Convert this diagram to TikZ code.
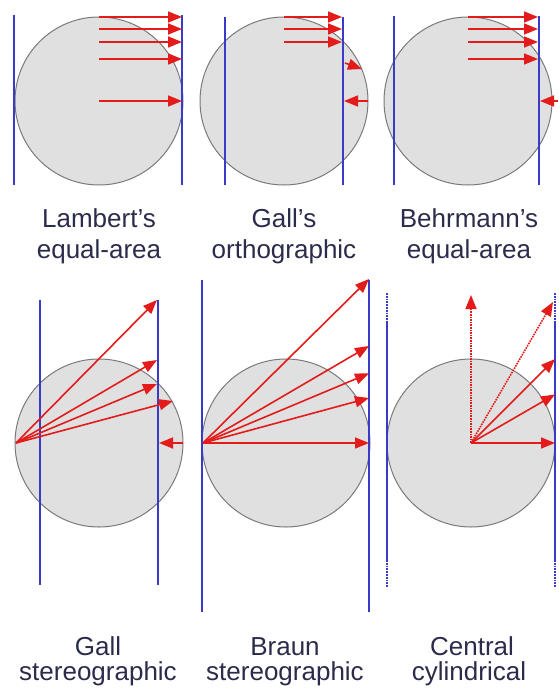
\documentclass[tikz,border=0pt]{standalone}
\usepackage{fontspec}
\setsansfont{Liberation Sans}
\usetikzlibrary{arrows.meta}
\definecolor{pgrey}{HTML}{E0E0E0}
\definecolor{pedge}{HTML}{7A7A7A}
\definecolor{pblue}{HTML}{3A3AC8}
\definecolor{pred}{HTML}{E41B1B}
\definecolor{ptext}{HTML}{2B2B4B}

\begin{document}
\begin{tikzpicture}[x=1pt,y=1pt,
  globe/.style={fill=pgrey,draw=pedge,line width=1pt},
  cyl/.style={pblue,line width=1.8pt},
  cyldot/.style={pblue,line width=1.8pt,densely dotted},
  ray/.style={pred,line width=1.6pt,-{Triangle[length=14pt,width=11pt]}},
  raydot/.style={ray,densely dotted},
  caption/.style={text=ptext,font=\sffamily\fontsize{26}{31}\selectfont,anchor=base,inner sep=0pt}]
  \useasboundingbox (0,0) rectangle (558,-695);
  % Lambert's equal-area: tangent cylinder
  \begin{scope}[shift={(99,-101)}]
    \draw[globe] (0,0) circle (84);
    \draw[cyl] (-85,86) -- (-85,-84);
    \draw[cyl] (83,86) -- (83,-84);
    \foreach \h in {84,72,59,42,0}
      \draw[ray] (0,\h) -- (83,\h);
  \end{scope}
  % Gall's orthographic: secant at 45
  \begin{scope}[shift={(284,-101)}]
    \draw[globe] (0,0) circle (84);
    \draw[cyl] (-59,84) -- (-59,-84);
    \draw[cyl] (59,84) -- (59,-84);
    \foreach \h in {84,72,59}
      \draw[ray] (0,\h) -- (58,\h);
    \draw[ray] (61,38) -- (78,32);
    \draw[ray] (84,0) -- (60,0);
  \end{scope}
  % Behrmann's equal-area: secant at 30
  \begin{scope}[shift={(468,-101)}]
    \draw[globe] (0,0) circle (84);
    \draw[cyl] (-74,85) -- (-74,-84);
    \draw[cyl] (71,85) -- (71,-84);
    \foreach \h in {84,72,59,42}
      \draw[ray] (0,\h) -- (70,\h);
    \draw[ray] (90,0) -- (72,0);
  \end{scope}
  % Gall stereographic
  \begin{scope}[shift={(99,-443)}]
    \draw[globe] (0,0) circle (84);
    \draw[cyl] (-59,143) -- (-59,-142);
    \draw[cyl] (59,143) -- (59,-142);
    \coordinate (gsPole) at (-83,0);
    \foreach \x/\y in {58/143,58/83,58/59,74/42}
      \draw[ray] (gsPole) -- (\x,\y);
    \draw[ray] (84,0) -- (60,0);
  \end{scope}
  % Braun stereographic
  \begin{scope}[shift={(286,-443)}]
    \draw[globe] (0,0) circle (84);
    \draw[cyl] (-84,163) -- (-84,-169);
    \draw[cyl] (83,163) -- (83,-169);
    \coordinate (brPole) at (-83,0);
    \foreach \x/\y in {83/164,83/97,83/69.6,83/45,83/0}
      \draw[ray] (brPole) -- (\x,\y);
  \end{scope}
  % Central cylindrical
  \begin{scope}[shift={(471,-443)}]
    \draw[globe] (0,0) circle (84);
    \foreach \s in {-84,84} {
      \draw[cyl] (\s,121) -- (\s,-117);
      \draw[cyldot] (\s,150) -- (\s,121);
      \draw[cyldot] (\s,-117) -- (\s,-144);
    }
    \coordinate (ccMid) at (0,0);
    \draw[raydot] (ccMid) -- (0,148);
    \draw[raydot] (ccMid) -- (82,141);
    \foreach \y in {84,48.5,0}
      \draw[ray] (ccMid) -- (84,\y);
  \end{scope}
  % captions
  \node[caption] (lamA) at (99,-227) {Lambert's};
  \node[caption] (lamB) at (99,-258) {equal-area};
  \node[caption] (galA) at (284,-227) {Gall's};
  \node[caption] (galB) at (284,-258) {orthographic};
  \node[caption] (behA) at (469,-227) {Behrmann's};
  \node[caption] (behB) at (469,-258) {equal-area};
  \node[caption] (gsA) at (98,-655) {Gall};
  \node[caption] (gsB) at (98,-680) {stereographic};
  \node[caption] (brA) at (285,-655) {Braun};
  \node[caption] (brB) at (285,-680) {stereographic};
  \node[caption] (ccA) at (472,-655) {Central};
  \node[caption] (ccB) at (469,-680) {cylindrical};
\end{tikzpicture}
\end{document}
